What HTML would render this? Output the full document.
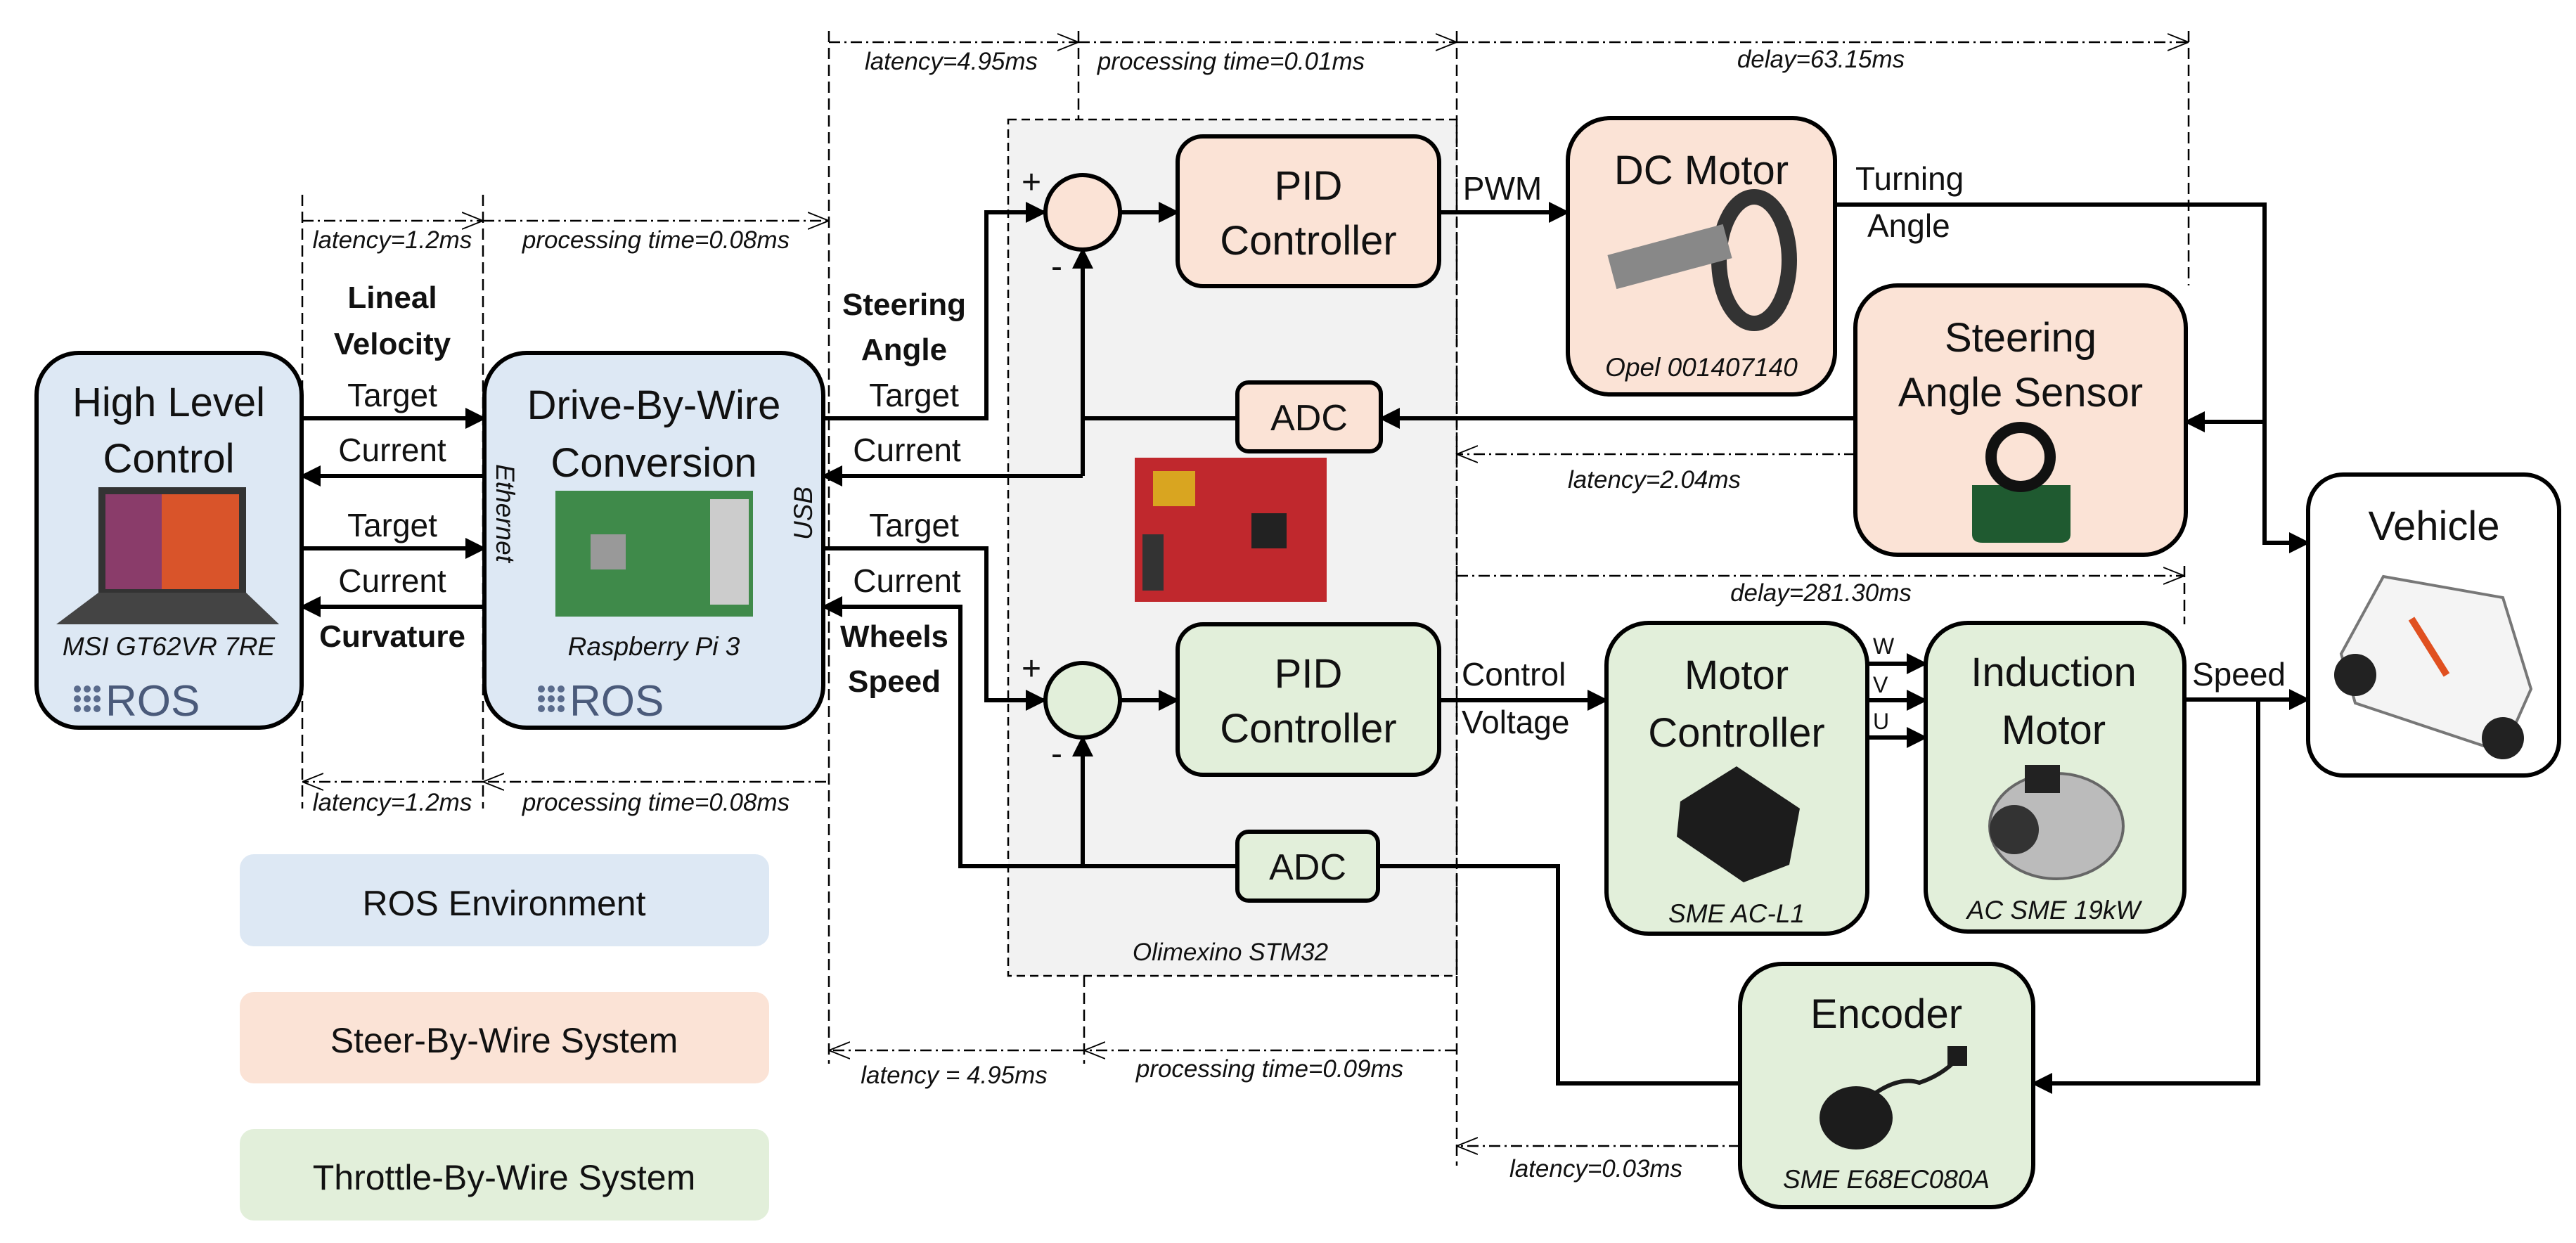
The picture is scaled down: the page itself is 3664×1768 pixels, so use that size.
<!DOCTYPE html>
<html><head><meta charset="utf-8"><style>html,body{margin:0;padding:0;background:#fff}svg{display:block}text{font-family:"Liberation Sans",sans-serif;fill:#111}</style></head><body>
<svg width="3664" height="1768" viewBox="0 0 3664 1768" xmlns="http://www.w3.org/2000/svg">
<defs>
<marker id="o" viewBox="0 0 10 10" refX="10" refY="5" markerWidth="12" markerHeight="12" orient="auto"><path d="M0,1L10,5L0,9" fill="none" stroke="#000" stroke-width="0.6"/></marker>
<marker id="arr" viewBox="0 0 10 10" refX="9" refY="5" markerWidth="5" markerHeight="5" orient="auto"><path d="M0,0L10,5L0,10z" fill="#000"/></marker>
</defs>
<style>
.s{stroke:#000;stroke-width:6;fill:none}
.ar{stroke:#000;stroke-width:6;fill:none;marker-end:url(#arr)}
.d{stroke:#000;stroke-width:2.5;fill:none;stroke-dasharray:16 8}
.dd{stroke:#000;stroke-width:2.5;fill:none;stroke-dasharray:16 6 3 6}
.b{stroke:#000;stroke-width:6}
.t{font-size:46px}
.h{font-size:58px}
.i{font-size:37px;font-style:italic}
.l{font-size:35px;font-style:italic}
.bo{font-size:44px;font-weight:bold}
</style>

<rect x="1434" y="170" width="638" height="1218" fill="#f2f2f2" stroke="#000" stroke-width="2.5" stroke-dasharray="12 7"/>
<text x="1750" y="1366" class="l" text-anchor="middle">Olimexino STM32</text>

<line class="d" x1="430" y1="277" x2="430" y2="1150"/>
<line class="d" x1="687" y1="277" x2="687" y2="1150"/>
<line class="d" x1="1179" y1="44" x2="1179" y2="1513"/>
<line class="d" x1="1534" y1="44" x2="1534" y2="170"/>
<line class="d" x1="2072" y1="44" x2="2072" y2="1658"/>
<line class="d" x1="3113" y1="44" x2="3113" y2="406"/>
<line class="d" x1="3107" y1="805" x2="3107" y2="888"/>
<line class="d" x1="1542" y1="1388" x2="1542" y2="1513"/>

<line class="dd" x1="430" y1="314" x2="687" y2="314" marker-end="url(#o)"/>
<line class="dd" x1="687" y1="314" x2="1179" y2="314" marker-end="url(#o)"/>
<line class="dd" x1="1179" y1="60" x2="1534" y2="60" marker-end="url(#o)"/>
<line class="dd" x1="1534" y1="60" x2="2072" y2="60" marker-end="url(#o)"/>
<line class="dd" x1="2072" y1="60" x2="3113" y2="60" marker-end="url(#o)"/>
<line class="dd" x1="2072" y1="819" x2="3107" y2="819" marker-end="url(#o)"/>
<line class="dd" x1="2639" y1="646" x2="2072" y2="646" marker-end="url(#o)"/>
<line class="dd" x1="687" y1="1112" x2="430" y2="1112" marker-end="url(#o)"/>
<line class="dd" x1="1175" y1="1112" x2="687" y2="1112" marker-end="url(#o)"/>
<line class="dd" x1="1542" y1="1494" x2="1179" y2="1494" marker-end="url(#o)"/>
<line class="dd" x1="2071" y1="1494" x2="1542" y2="1494" marker-end="url(#o)"/>
<line class="dd" x1="2475" y1="1630" x2="2072" y2="1630" marker-end="url(#o)"/>

<text x="558" y="353" class="l" text-anchor="middle">latency=1.2ms</text>
<text x="933" y="353" class="l" text-anchor="middle">processing time=0.08ms</text>
<text x="1353" y="99" class="l" text-anchor="middle">latency=4.95ms</text>
<text x="1751" y="99" class="l" text-anchor="middle">processing time=0.01ms</text>
<text x="2590" y="96" class="l" text-anchor="middle">delay=63.15ms</text>
<text x="2590" y="855" class="l" text-anchor="middle">delay=281.30ms</text>
<text x="2353" y="694" class="l" text-anchor="middle">latency=2.04ms</text>
<text x="558" y="1153" class="l" text-anchor="middle">latency=1.2ms</text>
<text x="933" y="1153" class="l" text-anchor="middle">processing time=0.08ms</text>
<text x="1357" y="1541" class="l" text-anchor="middle">latency = 4.95ms</text>
<text x="1806" y="1532" class="l" text-anchor="middle">processing time=0.09ms</text>
<text x="2270" y="1674" class="l" text-anchor="middle">latency=0.03ms</text>

<rect x="341" y="1215" width="753" height="131" rx="20" fill="#dde8f4"/>
<text x="717" y="1302" text-anchor="middle" style="font-size:50px">ROS Environment</text>
<rect x="341" y="1411" width="753" height="130" rx="20" fill="#fbe3d6"/>
<text x="717" y="1497" text-anchor="middle" style="font-size:50px">Steer-By-Wire System</text>
<rect x="341" y="1606" width="753" height="130" rx="20" fill="#e2efda"/>
<text x="717" y="1692" text-anchor="middle" style="font-size:50px">Throttle-By-Wire System</text>

<rect x="52" y="502" width="377" height="533" rx="60" fill="#dde8f4" class="b"/>
<text x="240" y="592" class="h" text-anchor="middle">High Level</text>
<text x="240" y="672" class="h" text-anchor="middle">Control</text>
<rect x="140" y="693" width="210" height="150" fill="#333"/>
<rect x="150" y="703" width="190" height="135" fill="#d9542a"/>
<rect x="150" y="703" width="80" height="135" fill="#8a3c6a"/>
<path d="M140 843 L350 843 L397 888 L80 888 Z" fill="#444"/>
<text x="240" y="932" class="i" text-anchor="middle">MSI GT62VR 7RE</text>
<g fill="#5a6b8c"><circle cx="110" cy="980" r="5"/><circle cx="124" cy="980" r="5"/><circle cx="138" cy="980" r="5"/><circle cx="110" cy="994" r="5"/><circle cx="124" cy="994" r="5"/><circle cx="138" cy="994" r="5"/><circle cx="110" cy="1008" r="5"/><circle cx="124" cy="1008" r="5"/><circle cx="138" cy="1008" r="5"/></g>
<text x="150" y="1018" style="font-size:62px;fill:#4a5a7a">ROS</text>

<rect x="689" y="502" width="482" height="533" rx="60" fill="#dde8f4" class="b"/>
<text x="930" y="596" class="h" text-anchor="middle">Drive-By-Wire</text>
<text x="930" y="678" class="h" text-anchor="middle">Conversion</text>
<rect x="790" y="698" width="281" height="179" fill="#3f8a4a"/>
<rect x="1010" y="710" width="55" height="150" fill="#ccc"/>
<rect x="840" y="760" width="50" height="50" fill="#999"/>
<text x="930" y="932" class="i" text-anchor="middle">Raspberry Pi 3</text>
<g fill="#5a6b8c"><circle cx="770" cy="980" r="5"/><circle cx="784" cy="980" r="5"/><circle cx="798" cy="980" r="5"/><circle cx="770" cy="994" r="5"/><circle cx="784" cy="994" r="5"/><circle cx="798" cy="994" r="5"/><circle cx="770" cy="1008" r="5"/><circle cx="784" cy="1008" r="5"/><circle cx="798" cy="1008" r="5"/></g>
<text x="810" y="1018" style="font-size:62px;fill:#4a5a7a">ROS</text>
<text transform="translate(706,730) rotate(90)" class="i" text-anchor="middle">Ethernet</text>
<text transform="translate(1155,730) rotate(-90)" class="i" text-anchor="middle">USB</text>

<line class="ar" x1="429" y1="595" x2="689" y2="595"/>
<line class="ar" x1="689" y1="677" x2="429" y2="677"/>
<line class="ar" x1="429" y1="780" x2="689" y2="780"/>
<line class="ar" x1="689" y1="863" x2="429" y2="863"/>
<text x="558" y="438" class="bo" text-anchor="middle">Lineal</text>
<text x="558" y="504" class="bo" text-anchor="middle">Velocity</text>
<text x="558" y="578" class="t" text-anchor="middle">Target</text>
<text x="558" y="656" class="t" text-anchor="middle">Current</text>
<text x="558" y="763" class="t" text-anchor="middle">Target</text>
<text x="558" y="842" class="t" text-anchor="middle">Current</text>
<text x="558" y="920" class="bo" text-anchor="middle">Curvature</text>
<text x="1286" y="448" class="bo" text-anchor="middle">Steering</text>
<text x="1286" y="512" class="bo" text-anchor="middle">Angle</text>
<text x="1300" y="578" class="t" text-anchor="middle">Target</text>
<text x="1290" y="656" class="t" text-anchor="middle">Current</text>
<text x="1300" y="763" class="t" text-anchor="middle">Target</text>
<text x="1290" y="842" class="t" text-anchor="middle">Current</text>
<text x="1272" y="920" class="bo" text-anchor="middle">Wheels</text>
<text x="1272" y="984" class="bo" text-anchor="middle">Speed</text>

<polyline class="ar" points="1171,595 1403,595 1403,302 1486,302"/>
<polyline class="ar" points="1540,677 1171,677"/>
<line class="s" x1="1540" y1="677" x2="1540" y2="595"/>
<line class="ar" x1="1540" y1="595" x2="1540" y2="355"/>
<line class="s" x1="1540" y1="595" x2="1760" y2="595"/>
<circle cx="1540" cy="302" r="53" fill="#fbe3d6" class="b"/>
<text x="1467" y="275" style="font-size:48px" text-anchor="middle">+</text>
<text x="1503" y="395" style="font-size:48px" text-anchor="middle">-</text>
<line class="ar" x1="1593" y1="302" x2="1675" y2="302"/>
<rect x="1675" y="194" width="372" height="213" rx="36" fill="#fbe3d6" class="b"/>
<text x="1861" y="284" class="h" text-anchor="middle">PID</text>
<text x="1861" y="362" class="h" text-anchor="middle">Controller</text>
<line class="ar" x1="2047" y1="302" x2="2230" y2="302"/>
<text x="2137" y="284" class="t" text-anchor="middle">PWM</text>
<rect x="1760" y="544" width="204" height="98" rx="16" fill="#fbe3d6" class="b"/>
<text x="1862" y="612" text-anchor="middle" style="font-size:52px">ADC</text>
<line class="ar" x1="2639" y1="595" x2="1964" y2="595"/>

<rect x="1614" y="651" width="273" height="205" fill="#c0282d"/>
<rect x="1640" y="670" width="60" height="50" fill="#d9a520"/>
<rect x="1780" y="730" width="50" height="50" fill="#222"/>
<rect x="1625" y="760" width="30" height="80" fill="#333"/>

<rect x="2230" y="168" width="380" height="393" rx="60" fill="#fbe3d6" class="b"/>
<text x="2420" y="262" class="h" text-anchor="middle">DC Motor</text>
<ellipse cx="2495" cy="370" rx="50" ry="90" fill="none" stroke="#333" stroke-width="22"/>
<rect x="2290" y="340" width="170" height="50" fill="#888" transform="rotate(-15 2375 365)"/>
<text x="2420" y="535" class="i" text-anchor="middle">Opel 001407140</text>
<polyline class="ar" points="2610,291 3221,291 3221,772 3283,772"/>
<text x="2639" y="270" class="t">Turning</text>
<text x="2656" y="337" class="t">Angle</text>
<line class="ar" x1="3221" y1="600" x2="3109" y2="600"/>

<rect x="2639" y="406" width="470" height="383" rx="60" fill="#fbe3d6" class="b"/>
<text x="2874" y="500" class="h" text-anchor="middle">Steering</text>
<text x="2874" y="578" class="h" text-anchor="middle">Angle Sensor</text>
<path d="M2805 690 L2945 690 L2945 760 Q2945 772 2930 772 L2820 772 Q2805 772 2805 760 Z" fill="#1f5a30"/>
<circle cx="2874" cy="650" r="42" fill="#fbe3d6" stroke="#111" stroke-width="16"/>

<rect x="3283" y="675" width="357" height="428" rx="50" fill="#fff" class="b"/>
<text x="3462" y="768" class="h" text-anchor="middle">Vehicle</text>
<path d="M3330 930 L3390 820 L3560 850 L3600 980 L3560 1070 L3350 1000 Z" fill="#f4f4f4" stroke="#777" stroke-width="4"/>
<circle cx="3350" cy="960" r="30" fill="#222"/><circle cx="3560" cy="1050" r="30" fill="#222"/>
<path d="M3430 880 L3480 960" stroke="#e05020" stroke-width="10"/>

<polyline class="ar" points="1171,780 1403,780 1403,996 1486,996"/>
<polyline class="ar" points="1760,1232 1366,1232 1366,863 1171,863"/>
<line class="ar" x1="1540" y1="1232" x2="1540" y2="1049"/>
<circle cx="1540" cy="996" r="53" fill="#e2efda" class="b"/>
<text x="1467" y="967" style="font-size:48px" text-anchor="middle">+</text>
<text x="1503" y="1088" style="font-size:48px" text-anchor="middle">-</text>
<line class="ar" x1="1593" y1="996" x2="1675" y2="996"/>
<rect x="1675" y="888" width="372" height="214" rx="36" fill="#e2efda" class="b"/>
<text x="1861" y="978" class="h" text-anchor="middle">PID</text>
<text x="1861" y="1056" class="h" text-anchor="middle">Controller</text>
<rect x="1760" y="1183" width="200" height="98" rx="16" fill="#e2efda" class="b"/>
<text x="1860" y="1251" text-anchor="middle" style="font-size:52px">ADC</text>
<polyline class="s" points="1960,1232 2216,1232 2216,1541 2475,1541"/>
<line class="ar" x1="2047" y1="996" x2="2285" y2="996"/>
<text x="2079" y="975" class="t">Control</text>
<text x="2079" y="1043" class="t">Voltage</text>

<rect x="2285" y="886" width="371" height="442" rx="60" fill="#e2efda" class="b"/>
<text x="2470" y="980" class="h" text-anchor="middle">Motor</text>
<text x="2470" y="1062" class="h" text-anchor="middle">Controller</text>
<path d="M2390 1140 L2470 1090 L2560 1150 L2545 1230 L2480 1255 L2385 1190 Z" fill="#1c1c1c"/>
<text x="2470" y="1312" class="i" text-anchor="middle">SME AC-L1</text>
<line class="ar" x1="2656" y1="944" x2="2739" y2="944"/>
<line class="ar" x1="2656" y1="996" x2="2739" y2="996"/>
<line class="ar" x1="2656" y1="1049" x2="2739" y2="1049"/>
<text x="2664" y="930" style="font-size:32px">W</text>
<text x="2664" y="985" style="font-size:32px">V</text>
<text x="2664" y="1037" style="font-size:32px">U</text>

<rect x="2739" y="886" width="368" height="439" rx="60" fill="#e2efda" class="b"/>
<text x="2921" y="976" class="h" text-anchor="middle">Induction</text>
<text x="2921" y="1058" class="h" text-anchor="middle">Motor</text>
<ellipse cx="2925" cy="1175" rx="95" ry="75" fill="#bbb" stroke="#666" stroke-width="4"/>
<circle cx="2865" cy="1180" r="35" fill="#333"/>
<rect x="2880" y="1088" width="50" height="40" fill="#222"/>
<text x="2921" y="1307" class="i" text-anchor="middle">AC SME 19kW</text>
<line class="ar" x1="3107" y1="995" x2="3283" y2="995"/>
<text x="3118" y="975" class="t">Speed</text>
<polyline class="ar" points="3212,995 3212,1541 2892,1541"/>

<rect x="2475" y="1371" width="417" height="346" rx="60" fill="#e2efda" class="b"/>
<text x="2683" y="1462" class="h" text-anchor="middle">Encoder</text>
<ellipse cx="2640" cy="1590" rx="52" ry="45" fill="#1c1c1c"/>
<path d="M2660 1560 Q2700 1530 2730 1540 Q2760 1530 2780 1510" stroke="#1c1c1c" stroke-width="6" fill="none"/>
<rect x="2770" y="1488" width="28" height="28" fill="#1c1c1c"/>
<text x="2683" y="1690" class="i" text-anchor="middle">SME E68EC080A</text>
</svg>
</body></html>
